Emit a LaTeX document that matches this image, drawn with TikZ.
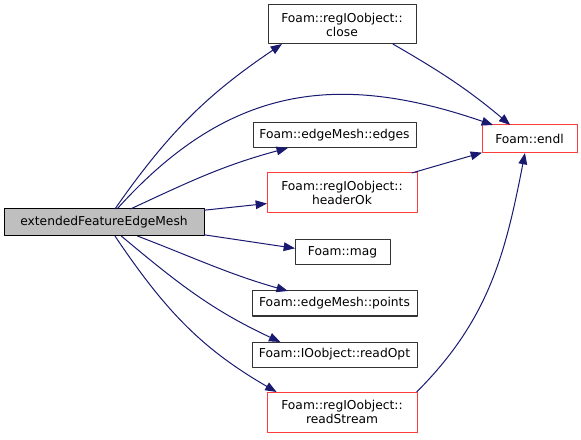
\documentclass[tikz,border=0pt]{standalone}
\usepackage{fontspec}
\setmainfont{DejaVu Sans}
\usepackage{xcolor}
\usetikzlibrary{arrows.meta}

\definecolor{edgeblue}{HTML}{191970}
\definecolor{boxred}{HTML}{FF3C3C}
\definecolor{boxgray}{HTML}{BFBFBF}

\begin{document}
\begin{tikzpicture}[x=0.75pt, y=0.75pt, line join=round,
    fn/.style={draw=black!80, fill=white, line width=0.75pt, inner sep=0pt, outer sep=0pt,
      align=center, font=\fontsize{9.2}{10.6}\selectfont},
    fnred/.style={fn, draw=boxred},
    fnmain/.style={fn, fill=boxgray, draw=black},
    call/.style={-{Triangle[length=8.5pt,width=6.5pt]}, draw=edgeblue, line width=0.75pt}]
  \useasboundingbox (0,0) rectangle (581,439);
  % caller
  \node[fnmain, minimum width=150pt, minimum height=20.25pt] (main) at (104,216.5) {extendedFeatureEdgeMesh};
  % callees
  \node[fn, minimum width=111pt, minimum height=29.25pt] (close) at (342,414.5) {Foam::regIOobject::\\close};
  \node[fnred, minimum width=71.25pt, minimum height=21pt] (endl) at (529.5,300) {Foam::endl};
  \node[fn, minimum width=122.25pt, minimum height=18.75pt] (edges) at (334.5,303.5) {Foam::edgeMesh::edges};
  \node[fnred, minimum width=112.5pt, minimum height=30pt] (headerOk) at (342,246) {Foam::regIOobject::\\headerOk};
  \node[fn, minimum width=71.25pt, minimum height=18.75pt] (mag) at (342.5,186.5) {Foam::mag};
  \node[fn, minimum width=123.75pt, minimum height=18.75pt] (points) at (334.5,135.5) {Foam::edgeMesh::points};
  \node[fn, minimum width=123.75pt, minimum height=18.75pt] (readOpt) at (334.5,84.5) {Foam::IOobject::readOpt};
  \node[fnred, minimum width=112.5pt, minimum height=30pt] (readStream) at (342,27) {Foam::regIOobject::\\readStream};
  % calls
  \draw[call] (main.51) to[out=55, in=214] (close.198);
  \draw[call] (main.46) to[out=48, in=161, looseness=1.1] (endl.159);
  \draw[call] (main.27) to[out=25, in=195] (edges.195);
  \draw[call] (main.7) -- (headerOk.188);
  \draw[call] (main.-7) -- (mag.175);
  \draw[call] (main.-22) to[out=-21, in=164] (points.165);
  \draw[call] (main.-38) to[out=-40, in=155] (readOpt.167);
  \draw[call] (main.-51) to[out=-56, in=150] (readStream.163);
  \draw[call] (close.-21) to[out=-30, in=140] (endl.144);
  \draw[call] (headerOk.16) -- (endl.196);
  \draw[call] (readStream.15) to[out=45, in=259] (endl.252);
\end{tikzpicture}
\end{document}
